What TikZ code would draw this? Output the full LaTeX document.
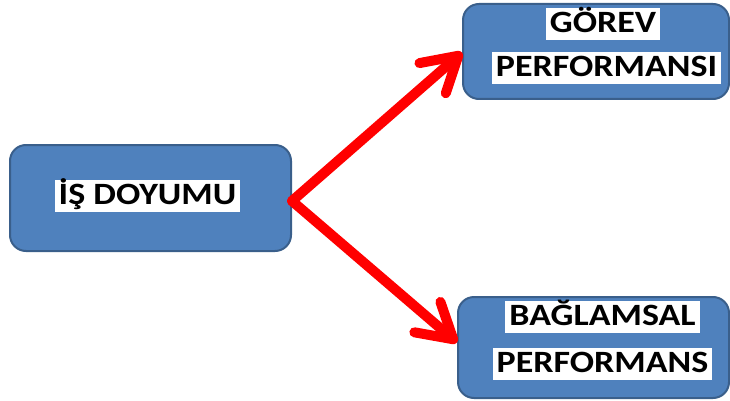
\documentclass[tikz,border=0pt]{standalone}
\usepackage{fontspec}
\setmainfont[FakeStretch=1.16]{Carlito}
\usetikzlibrary{arrows.meta}
\definecolor{boxfill}{HTML}{4F81BD}
\definecolor{boxline}{HTML}{3A5F8B}
\definecolor{arrowred}{HTML}{FF0000}
\begin{document}
\begin{tikzpicture}[x=1pt,y=-1pt,
  box/.style={draw=boxline, line width=2pt, fill=boxfill, rounded corners=16pt, inner sep=0pt},
  lbl/.style={fill=white, font=\bfseries\fontsize{31}{31}\selectfont, inner xsep=4pt, inner ysep=2pt, text height=23pt, text depth=5pt},
  link/.style={draw=arrowred, line width=10pt, line cap=round, line join=round,
    -{Straight Barb[length=34pt, width=40pt, line cap=round, line join=round]}}
]
\useasboundingbox (0,0) rectangle (730,401);

% boxes
\node[box, minimum width=281pt, minimum height=106pt] (L) at (150.5,198) {};
\node[box, minimum width=266pt, minimum height=95pt] (T) at (596,51.5) {};
\node[box, minimum width=271pt, minimum height=101pt] (B) at (593.5,347.5) {};

% labels
\node[lbl] (l1) at (147.5,195.5) {İŞ DOYUMU};
\node[lbl] (t1) at (603,24) {GÖREV};
\node[lbl] (t2) at (606.5,68) {PERFORMANSI};
\node[lbl] (b1) at (602.5,316.5) {BAĞLAMSAL};
\node[lbl] (b2) at (602.5,363.5) {PERFORMANS};

% connectors
\coordinate (src) at ([yshift=-3pt]L.east);
\draw[link] (src) -- ([yshift=-1pt]T.west);
\draw[link] (src) -- ([yshift=5pt]B.west);
\end{tikzpicture}
\end{document}
